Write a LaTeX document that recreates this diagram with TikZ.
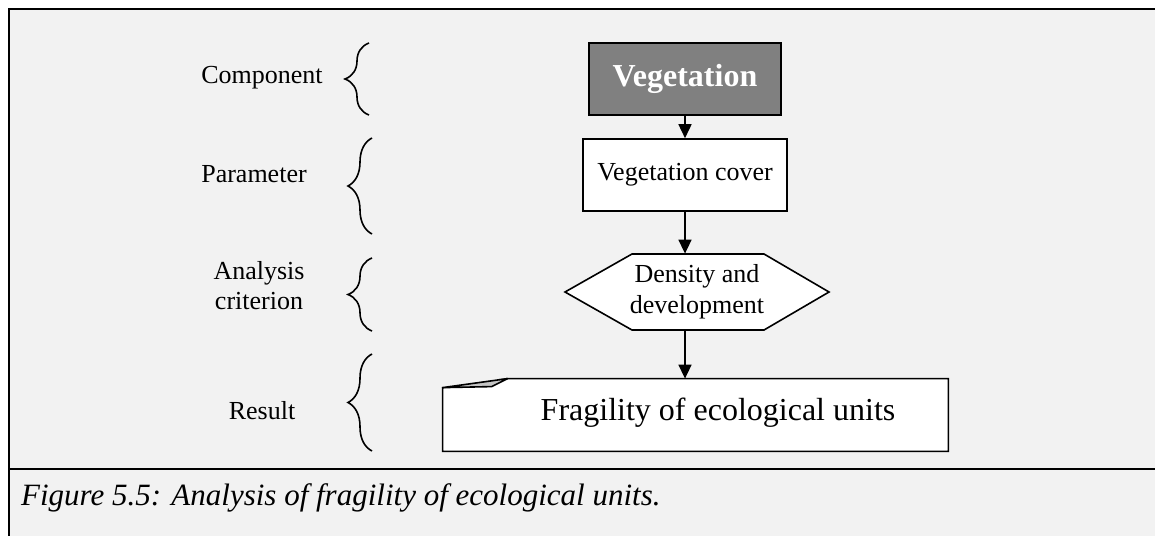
\documentclass[tikz,border=0pt]{standalone}
\usepackage{fontspec}
\setmainfont{Liberation Serif}
\usetikzlibrary{arrows.meta,decorations.pathreplacing}
\definecolor{panelgray}{HTML}{F2F2F2}
\definecolor{compgray}{HTML}{808080}
\definecolor{foldgray}{HTML}{C4C4C4}

\begin{document}
\begin{tikzpicture}[x=0.5pt,y=-0.5pt,
  >={Triangle[width=6.5pt,length=7pt]},
  levellabel/.style={font=\fontsize{13}{15}\selectfont, align=center},
  levelbrace/.style={decorate, decoration={brace, amplitude=12pt}, line width=0.8pt},
  compnode/.style={rectangle, draw=black, line width=0.8pt, fill=compgray, text=white, font=\fontsize{16}{19}\selectfont\bfseries, minimum width=96pt, minimum height=36pt},
  paramnode/.style={rectangle, draw=black, line width=0.8pt, fill=white, font=\fontsize{13}{15}\selectfont, minimum width=102pt, minimum height=36pt},
  critnode/.style={rectangle, font=\fontsize{13}{15.5}\selectfont, align=center, minimum width=132pt, minimum height=38pt, inner sep=0pt},
  resultnode/.style={rectangle, fill=white, minimum width=252.5pt, minimum height=36pt},
  ]

\useasboundingbox (0,0) rectangle (1155,536);
\fill[panelgray] (9,9) rectangle (1155,536);
\draw[line width=1pt] (1155,9) -- (9,9) -- (9,536);
\draw[line width=1pt] (9,469) -- (1155,469);

\node[levellabel] (lcomp) at (262,78) {Component};
\node[levellabel] (lparam) at (254,174) {Parameter};
\node[levellabel] (lcrit) at (259,286) {Analysis\\criterion};
\node[levellabel] (lres) at (262,411) {Result};

\draw[levelbrace] (369,115) -- (369,43);
\draw[levelbrace] (372,234) -- (372,138);
\draw[levelbrace] (372,331) -- (372,258);
\draw[levelbrace] (372,451) -- (372,354);

\node[compnode] (comp) at (685,79) {Vegetation};
\node[paramnode] (param) at (685,175) {Vegetation cover};

\draw[line width=0.8pt, fill=white] (565,292) -- (632,254) -- (764,254) -- (829,292) -- (764,330) -- (632,330) -- cycle;
\node[critnode] (crit) at (697,292) {Density and\\development};

\node[resultnode] (res) at (695.5,415) {};
\node[font=\fontsize{16}{19}\selectfont] (restext) at (718,413) {Fragility of ecological units};
\draw[line width=0.8pt] ([yshift=-4.5pt]res.north west) -- ([xshift=32.5pt]res.north west) -- (res.north east) -- (res.south east) -- (res.south west) -- cycle;
\fill[panelgray] (res.north west) -- ([xshift=32.5pt]res.north west) -- ([yshift=-4.5pt]res.north west) -- cycle;
\draw[line width=0.8pt, fill=foldgray, line join=round] ([yshift=-4.5pt]res.north west) -- ([xshift=32.5pt]res.north west) -- ([xshift=24.5pt,yshift=-4pt]res.north west) -- cycle;

\draw[->, line width=0.8pt] (comp) -- (param);
\draw[->, line width=0.8pt] (param.south) -- (param.south |- crit.north);
\draw[->, line width=0.8pt] (param.south |- crit.south) -- (param.south |- res.north);

\node[font=\fontsize{15.5}{18}\selectfont\itshape, anchor=west] (caption) at (14,498) {Figure 5.5: Analysis of fragility of ecological units.};

\end{tikzpicture}
\end{document}
